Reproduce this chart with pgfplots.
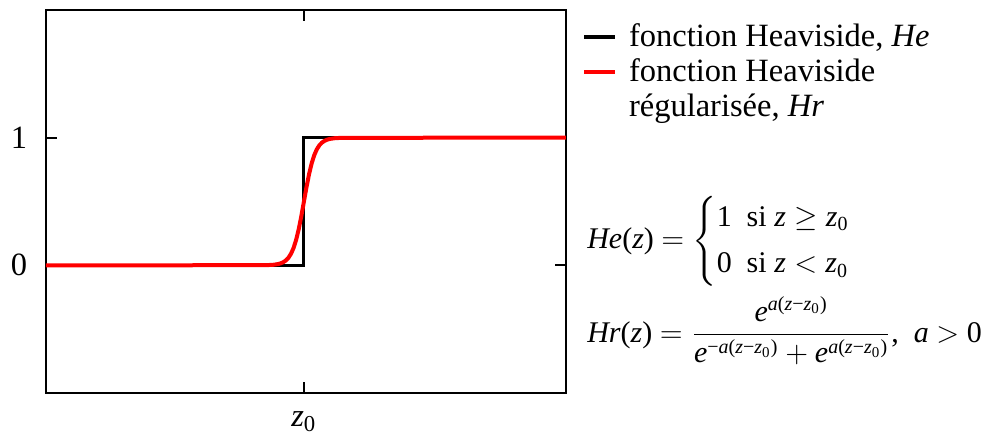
\documentclass[border=0pt]{standalone}
\usepackage{amsmath}
\usepackage{fontspec}
\setmainfont{Liberation Serif}
\usepackage{pgfplots}
\pgfplotsset{compat=1.18}

\newcommand{\ti}[1]{\textit{#1}}
% exponent a(z - z0), set in the text font
\newcommand{\ex}[1]{\text{#1\ti{a}(\ti{z}−\ti{z}$_{\text{0}}$)}}
\newcommand{\fsf}{\fontsize{12}{15.6}\selectfont}

\begin{document}
\fontsize{13}{15}\selectfont
\begin{tikzpicture}
\begin{axis}[
    width=208pt, height=153.2pt, scale only axis,
    xmin=-1, xmax=1.016, ymin=-1, ymax=2,
    axis line style={line width=0.8pt},
    xtick={0}, xticklabels={$\ti{z}_{\text{0}}$},
    ytick={0,1}, yticklabels={0,1},
    tick pos=both, tick align=inside,
    major tick length=4.5pt,
    every tick/.style={black, line width=0.8pt},
    yticklabel style={xshift=-3pt},
    xticklabel style={yshift=-3pt},
    clip=false,
    legend cell align=left,
    legend style={at={(axis description cs:1.0308,0.963)}, anchor=north west,
        draw=none, fill=none, inner sep=0pt, outer sep=0pt,
        row sep=2pt, column sep=4.8pt,
        nodes={inner sep=0pt, text height=9pt, text depth=3pt}},
    legend image code/.code={\draw[#1, line width=1.6pt] (0pt,1pt) -- (12.4pt,1pt);},
]
% step function
\addplot[black, line width=1.2pt] coordinates {(-1,0) (0,0) (0,1) (1.016,1)};
\addlegendentry{fonction Heaviside, \ti{He}}
% regularised step
\addplot[red, line width=1.6pt] coordinates {
    (-1,0) (-0.15,0.001) (-0.12,0.004) (-0.10,0.010) (-0.09,0.0157)
    (-0.08,0.0246) (-0.07,0.0384) (-0.06,0.0595) (-0.05,0.0911)
    (-0.04,0.1370) (-0.03,0.2010) (-0.02,0.2850) (-0.01,0.3870)
    (0,0.5) (0.01,0.6130) (0.02,0.7150) (0.03,0.7990) (0.04,0.8630)
    (0.05,0.9089) (0.06,0.9405) (0.07,0.9616) (0.08,0.9754)
    (0.09,0.9843) (0.10,0.9900) (0.12,0.9960) (0.15,0.999) (1.016,1)};
\addlegendentry{fonction Heaviside}
\addlegendimage{empty legend}
\addlegendentry{régularisée, \ti{Hr}}

\node[anchor=base west, inner sep=0pt, font=\fsf] at (rel axis cs:1.040,0.376)
    {\ti{He}(\ti{z}) $= \left\{\begin{array}{@{}l@{}}
        \text{1\ \ si \ti{z}} \geq \text{\ti{z}$_{\text{0}}$}\\[3pt]
        \text{0\ \ si \ti{z}} < \text{\ti{z}$_{\text{0}}$}
     \end{array}\right.$};
\node[anchor=base west, inner sep=0pt, font=\fsf] at (rel axis cs:1.040,0.133)
    {\ti{Hr}(\ti{z}) $= \dfrac{\ti{e}^{\ex{}}}
        {\ti{e}^{\ex{−}}+\ti{e}^{\ex{}}}$,\ \ \ti{a} $>$ 0};
\end{axis}
\path (-18.4pt,-15.6pt) rectangle (376pt,157.2pt);
\end{tikzpicture}
\end{document}
